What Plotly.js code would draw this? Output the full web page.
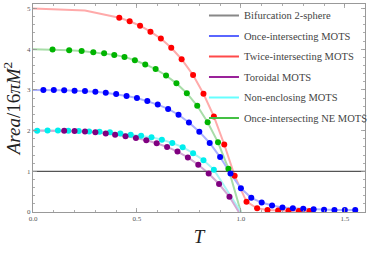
<!DOCTYPE html>
<html>
<head>
<meta charset="utf-8">
<script src="https://cdn.plot.ly/plotly-3.0.1.min.js"></script>
<style>html,body{margin:0;padding:0;background:#fff;}#chart{width:374px;height:253px;}</style>
</head>
<body>
<div id="chart"></div>
<script>
// Bifurcation 2-sphere
var bifT = [0, 1.6];
var bifA = [1, 1];

// Once-intersecting MOTS (blue)
var onceStartT = [0];
var onceStartA = [3];
var onceT = [0.05,0.10,0.15,0.20,0.25,0.30,0.35,0.40,0.45,0.50,0.55,0.60,0.65,0.70,0.75,0.80,0.85,0.90,0.95,1.00,1.05,1.10,1.15,1.20,1.25,1.30,1.35,1.40,1.45,1.50,1.55];
var onceA = [3.0,2.995,2.988,2.98,2.971,2.952,2.932,2.898,2.852,2.801,2.729,2.639,2.533,2.39,2.201,1.973,1.695,1.349,0.944,0.581,0.349,0.232,0.16,0.111,0.09,0.077,0.065,0.058,0.048,0.048,0.048];

// Twice-intersecting MOTS (red)
var twiceStartT = [0, 0.25];
var twiceStartA = [5, 4.95];
var twiceT = [0.415,0.465,0.515,0.565,0.615,0.665,0.715,0.77,0.82,0.87,0.92,0.97,1.027,1.078,1.128,1.179,1.229,1.279,1.33];
var twiceA = [4.77,4.685,4.576,4.43,4.26,4.036,3.753,3.363,2.906,2.349,1.659,0.889,0.254,0.09,0.048,0.034,0.03,0.027,0.027];

// Toroidal MOTS (purple)
var toroStartT = [0];
var toroStartA = [2];
var toroT = [0.15,0.20,0.25,0.30,0.35,0.395,0.445,0.495,0.545,0.595,0.645,0.695,0.745,0.795,0.845,0.895,0.945];
var toroA = [1.995,1.99,1.978,1.961,1.93,1.898,1.864,1.816,1.763,1.688,1.598,1.484,1.341,1.162,0.944,0.688,0.373];
var toroEndT = [0.99];
var toroEndA = [0];

// Non-enclosing MOTS (cyan)
var nonStartT = [0];
var nonStartA = [2];
var nonT = [0.02,0.07,0.12,0.17,0.22,0.27,0.32,0.37,0.42,0.47,0.52,0.57,0.62,0.67,0.72,0.77,0.82,0.87];
var nonA = [1.995,2.0,2.0,1.995,1.988,1.978,1.971,1.961,1.93,1.898,1.876,1.835,1.777,1.695,1.593,1.446,1.271,1.041];
var nonEndT = [1.0];
var nonEndA = [0];

// Once-intersecting NE MOTS (green)
var neStartT = [0];
var neStartA = [4];
var neT = [0.094,0.174,0.234,0.29,0.342,0.391,0.44,0.49,0.54,0.59,0.64,0.69,0.74,0.79,0.84,0.89,0.94];
var neA = [3.995,3.976,3.956,3.927,3.898,3.86,3.811,3.729,3.625,3.511,3.354,3.16,2.918,2.608,2.203,1.712,1.065];
var neEndT = [1.0];
var neEndA = [0];

var legendNames = ["Bifurcation 2-sphere","Once-intersecting MOTS","Twice-intersecting MOTS","Toroidal MOTS","Non-enclosing MOTS","Once-intersecting NE MOTS"];

var serif = "Liberation Serif, Times New Roman, serif";

function lineTrace(x, y, color) {
  return {x: x, y: y, mode: 'lines', line: {color: color, width: 2}, showlegend: false, hoverinfo: 'skip'};
}
function markTrace(x, y, color) {
  return {x: x, y: y, mode: 'markers', marker: {color: color, size: 6}, showlegend: false, hoverinfo: 'skip'};
}
function legTrace(i, color) {
  return {x: [null], y: [null], mode: 'lines', name: legendNames[i], legendgroup: 'g' + i,
          line: {color: color, width: 2}, showlegend: true};
}

var traces = [
  lineTrace(neStartT.concat(neT, neEndT), neStartA.concat(neA, neEndA), '#a8dda8'),
  lineTrace(nonStartT.concat(nonT, nonEndT), nonStartA.concat(nonA, nonEndA), '#a8f4f4'),
  lineTrace(toroStartT.concat(toroT, toroEndT), toroStartA.concat(toroA, toroEndA), '#d4a8d4'),
  lineTrace(twiceStartT.concat(twiceT), twiceStartA.concat(twiceA), '#ffaaaa'),
  lineTrace(onceStartT.concat(onceT), onceStartA.concat(onceA), '#aab0ff'),
  {x: bifT, y: bifA, mode: 'lines', line: {color: '#555555', width: 1.3}, showlegend: false, hoverinfo: 'skip'},
  markTrace(neT, neA, '#00b400'),
  markTrace(nonT, nonA, '#00eeee'),
  markTrace(toroT, toroA, '#800080'),
  markTrace(twiceT, twiceA, '#ff0000'),
  markTrace(onceT, onceA, '#0000ff'),
  legTrace(0, '#888888'),
  legTrace(1, '#5a66ff'),
  legTrace(2, '#ff4a4a'),
  legTrace(3, '#9a229a'),
  legTrace(4, '#66ffff'),
  legTrace(5, '#44c044')
];

var axisCommon = {
  showgrid: false, zeroline: false, showline: true, linecolor: '#999999', linewidth: 1,
  mirror: 'allticks', ticks: 'inside', ticklen: 4, tickcolor: '#999999', tickwidth: 0.8,
  tickfont: {family: serif, size: 7, color: '#555555'}
};

var layout = {
  width: 374, height: 253,
  margin: {l: 33, r: 1, t: 1, b: 41},
  paper_bgcolor: '#ffffff', plot_bgcolor: '#ffffff',
  showlegend: true,
  legend: {x: 0.515, y: 1.015, xanchor: 'left', yanchor: 'top', bgcolor: 'rgba(0,0,0,0)',
           font: {family: serif, size: 10.5, color: '#444444'}, tracegroupgap: 1.5},
  xaxis: Object.assign({}, axisCommon, {
    range: [0, 1.597], tickvals: [0, 0.5, 1.0, 1.5], ticktext: ['0.0','0.5','1.0','1.5'],
    minor: {dtick: 0.1, tick0: 0, ticks: 'inside', ticklen: 2, tickcolor: '#999999'},
    title: {text: '<i>T</i>', font: {family: serif, size: 19, color: '#222222'}, standoff: 7}
  }),
  yaxis: Object.assign({}, axisCommon, {
    range: [0, 5.11], tickvals: [0,1,2,3,4,5],
    minor: {dtick: 0.2, tick0: 0, ticks: 'inside', ticklen: 2, tickcolor: '#999999'},
    title: {text: '<i>Area</i>/16<i>πM</i><sup>2</sup>', font: {family: serif, size: 19, color: '#222222'}, standoff: 3}
  })
};

Plotly.newPlot('chart', traces, layout, {staticPlot: true, displayModeBar: false});
</script>
</body>
</html>
